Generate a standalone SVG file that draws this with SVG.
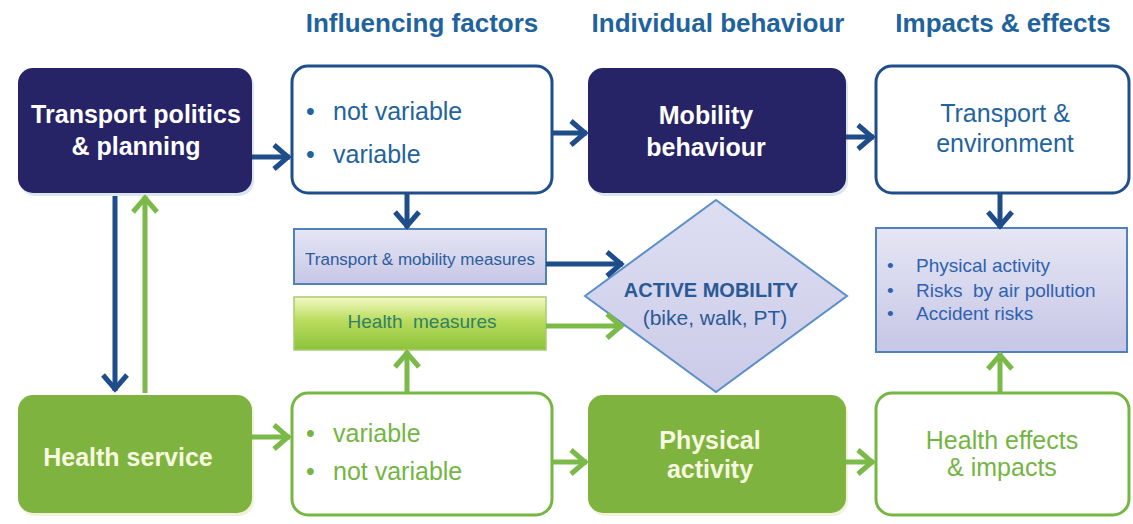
<svg xmlns="http://www.w3.org/2000/svg" width="1133" height="524" viewBox="0 0 1133 524">
<defs>
<style>
text{font-family:"Liberation Sans",Arial,sans-serif}
.hdr{font-size:26px;font-weight:bold;fill:#1f639c;text-anchor:middle}
.wb{font-size:25px;font-weight:bold;fill:#ffffff;text-anchor:middle}
.gb{font-size:25px;font-weight:bold;fill:#f6f9df;text-anchor:middle}
.bt{font-size:25px;fill:#1f63a0}
.gt{font-size:25px;fill:#74b543}
.navy{fill:#262466}
.green{fill:#7eb33f}
.wbox{fill:#ffffff;stroke:#1f4e8c;stroke-width:3}
.gbox{fill:#ffffff;stroke:#76b643;stroke-width:3}
.shadow{fill:#d9e6ee}
.ab{fill:none;stroke:#1e4d8a;stroke-width:5}
.ag{fill:none;stroke:#7bb948;stroke-width:5}
</style>
<marker id="mb" markerUnits="userSpaceOnUse" markerWidth="28" markerHeight="32" refX="22" refY="16" orient="auto">
<path d="M6,4 L20,16 L6,28" fill="none" stroke="#1e4d8a" stroke-width="5"/>
</marker>
<marker id="mg" markerUnits="userSpaceOnUse" markerWidth="28" markerHeight="32" refX="22" refY="16" orient="auto">
<path d="M6,4 L20,16 L6,28" fill="none" stroke="#7bb948" stroke-width="5"/>
</marker>
<linearGradient id="lav" x1="0" y1="0" x2="0" y2="1">
<stop offset="0" stop-color="#e6e6f5"/>
<stop offset="1" stop-color="#c6c6e6"/>
</linearGradient>
<linearGradient id="lime" x1="0" y1="0" x2="0" y2="1">
<stop offset="0" stop-color="#f4f9c4"/>
<stop offset="0.45" stop-color="#b9dc5c"/>
<stop offset="1" stop-color="#8cc23c"/>
</linearGradient>
<linearGradient id="dia" x1="0" y1="0" x2="0" y2="1">
<stop offset="0" stop-color="#dedef2"/>
<stop offset="1" stop-color="#cbcbe9"/>
</linearGradient>
</defs>

<g id="headers">
<text class="hdr" x="422" y="32">Influencing factors</text>
<text class="hdr" x="718" y="32">Individual behaviour</text>
<text class="hdr" x="1003" y="32">Impacts &amp; effects</text>
</g>

<g id="transport-politics">
<rect class="shadow" x="20" y="71" width="234" height="125" rx="15"/>
<rect class="navy" x="18" y="68" width="234" height="125" rx="15"/>
<text class="wb" x="136" y="123">Transport politics</text>
<text class="wb" x="136" y="155">&amp; planning</text>
</g>

<g id="influencing-top">
<rect class="wbox" x="292" y="66" width="260" height="127" rx="16"/>
<text class="bt" x="306" y="120">•</text>
<text class="bt" x="333" y="120">not variable</text>
<text class="bt" x="306" y="163">•</text>
<text class="bt" x="333" y="163">variable</text>
</g>

<g id="mobility-behaviour">
<rect class="shadow" x="590" y="71" width="258" height="125" rx="15"/>
<rect class="navy" x="588" y="68" width="258" height="125" rx="15"/>
<text class="wb" x="706" y="124">Mobility</text>
<text class="wb" x="706" y="156">behaviour</text>
</g>

<g id="transport-environment">
<rect class="wbox" x="876" y="66" width="253" height="127" rx="16"/>
<text class="bt" x="1005" y="122" text-anchor="middle">Transport &amp;</text>
<text class="bt" x="1005" y="152" text-anchor="middle">environment</text>
</g>

<g id="transport-mobility-measures">
<rect x="294" y="229" width="252" height="55" fill="url(#lav)" stroke="#4f81bd" stroke-width="2"/>
<text x="420" y="265" font-size="16" fill="#2d5d9c" text-anchor="middle" textLength="230" lengthAdjust="spacingAndGlyphs">Transport &amp; mobility measures</text>
</g>

<g id="health-measures">
<rect x="294" y="297" width="252" height="53" fill="url(#lime)" stroke="#a8cc70" stroke-width="1.5"/>
<text x="422" y="328" font-size="19" fill="#2f8068" text-anchor="middle" xml:space="preserve">Health  measures</text>
</g>

<g id="active-mobility">
<polygon points="716,200 847,296 716,392 585,296" fill="url(#dia)" stroke="#5b8fc7" stroke-width="2"/>
<text x="711" y="297" font-size="20" font-weight="bold" fill="#2a5a96" text-anchor="middle">ACTIVE MOBILITY</text>
<text x="715" y="325" font-size="21" fill="#2a5a96" text-anchor="middle">(bike, walk, PT)</text>
</g>

<g id="impacts-list">
<rect x="876" y="228" width="251" height="124" fill="url(#lav)" stroke="#4f81bd" stroke-width="2"/>
<text x="887" y="272" font-size="19" fill="#2e62ae">•</text>
<text x="916" y="272" font-size="19" fill="#2e62ae">Physical activity</text>
<text x="887" y="297" font-size="19" fill="#2e62ae">•</text>
<text x="916" y="297" font-size="19" fill="#2e62ae" xml:space="preserve">Risks  by air pollution</text>
<text x="887" y="320" font-size="19" fill="#2e62ae">•</text>
<text x="916" y="320" font-size="19" fill="#2e62ae">Accident risks</text>
</g>

<g id="health-service">
<rect x="20" y="398" width="234" height="118" rx="15" fill="#f3f1da"/>
<rect class="green" x="18" y="395" width="234" height="118" rx="15"/>
<text class="gb" x="128" y="466">Health service</text>
</g>

<g id="influencing-bottom">
<rect class="gbox" x="292" y="393" width="260" height="122" rx="16"/>
<text class="gt" x="306" y="442">•</text>
<text class="gt" x="333" y="442">variable</text>
<text class="gt" x="306" y="480">•</text>
<text class="gt" x="333" y="480">not variable</text>
</g>

<g id="physical-activity">
<rect x="590" y="398" width="258" height="118" rx="15" fill="#f3f1da"/>
<rect class="green" x="588" y="395" width="258" height="118" rx="15"/>
<text class="gb" x="710" y="449">Physical</text>
<text class="gb" x="710" y="478">activity</text>
</g>

<g id="health-effects">
<rect class="gbox" x="876" y="393" width="253" height="122" rx="16"/>
<text class="gt" x="1002" y="449" text-anchor="middle" fill="#5cae4a">Health effects</text>
<text class="gt" x="1002" y="476" text-anchor="middle" fill="#5cae4a">&amp; impacts</text>
</g>

<g id="connectors">
<line class="ab" x1="252" y1="157" x2="290" y2="157" marker-end="url(#mb)"/>
<line class="ab" x1="552" y1="133" x2="587" y2="133" marker-end="url(#mb)"/>
<line class="ab" x1="846" y1="137" x2="874" y2="137" marker-end="url(#mb)"/>
<line class="ab" x1="407" y1="193" x2="407" y2="228" marker-end="url(#mb)"/>
<line class="ab" x1="546" y1="264" x2="623" y2="264" marker-end="url(#mb)"/>
<line class="ag" x1="546" y1="326" x2="623" y2="326" marker-end="url(#mg)"/>
<line class="ag" x1="407" y1="393" x2="407" y2="351" marker-end="url(#mg)"/>
<line class="ab" x1="1000" y1="193" x2="1000" y2="228" marker-end="url(#mb)"/>
<line class="ag" x1="1000" y1="393" x2="1000" y2="353" marker-end="url(#mg)"/>
<line class="ab" x1="115" y1="196" x2="115" y2="391" marker-end="url(#mb)"/>
<line class="ag" x1="145" y1="393" x2="145" y2="196" marker-end="url(#mg)"/>
<line class="ag" x1="252" y1="437" x2="290" y2="437" marker-end="url(#mg)"/>
<line class="ag" x1="552" y1="462" x2="587" y2="462" marker-end="url(#mg)"/>
<line class="ag" x1="846" y1="462" x2="874" y2="462" marker-end="url(#mg)"/>
</g>
</svg>
